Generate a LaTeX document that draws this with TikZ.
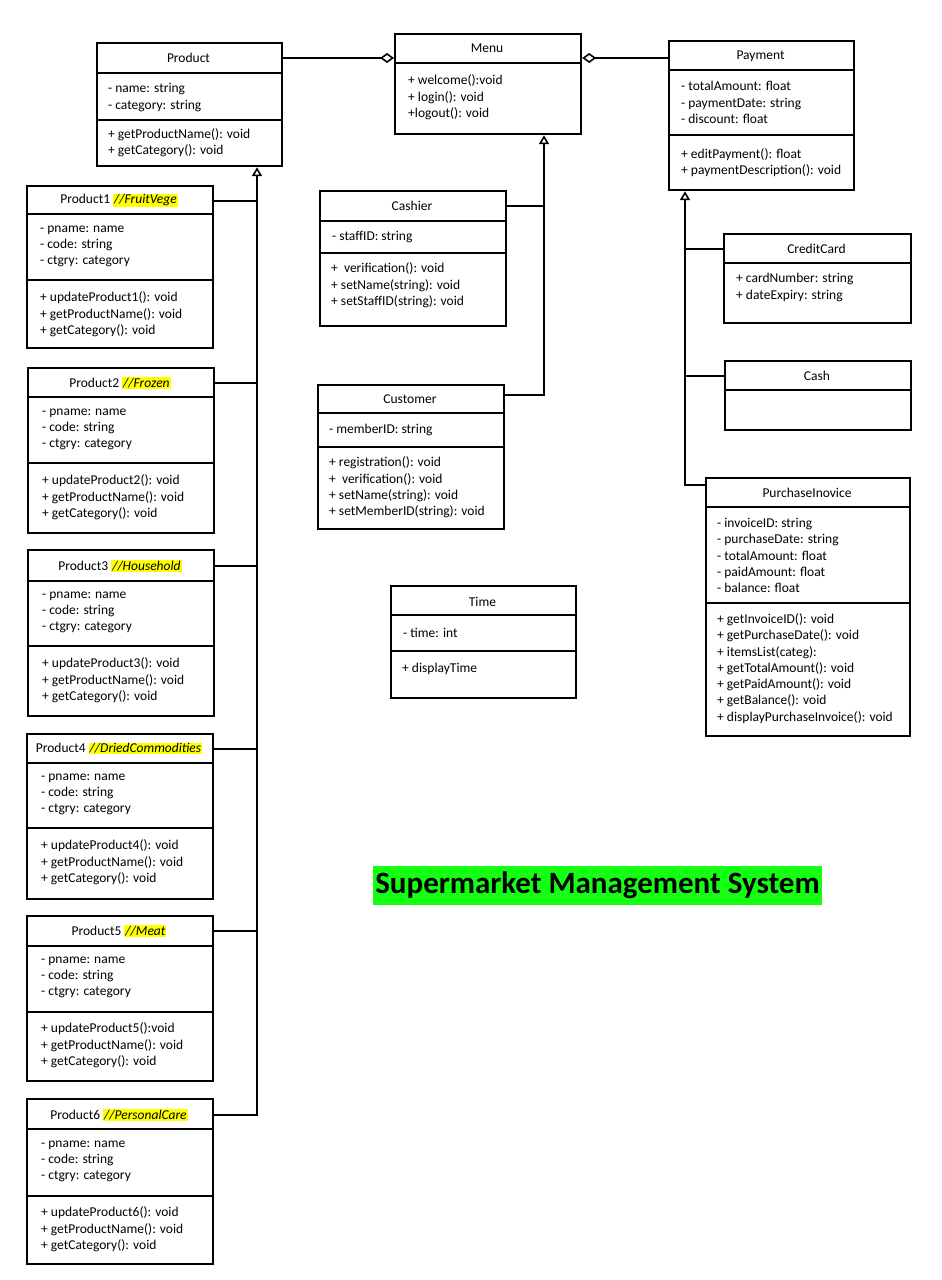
\documentclass[tikz,border=0pt]{standalone}
\usepackage{fontspec}
\setmainfont{Carlito}
\usetikzlibrary{arrows.meta}
\definecolor{hl}{RGB}{255,255,0}
\definecolor{titlegreen}{RGB}{20,255,20}
\newcommand\umlbox[7]{%
  \node[clsbox, anchor=north west, minimum width={(#4-#2)*1pt}, minimum height={(#5-#3)*1pt}] (#1) at (#2,#3) {};
  \draw[clsline] (#2,#6) -- (#4,#6);
  \ifx&#7&\else\draw[clsline] (#2,#7) -- (#4,#7);\fi
}
\newcommand\hlt[1]{{\setlength{\fboxsep}{1pt}\colorbox{hl}{\itshape #1}}}
\begin{document}
\begin{tikzpicture}[x=1pt,y=-1pt,
  clsbox/.style={draw, line width=2.2pt, inner sep=0pt, fill=white},
  clsline/.style={line width=2.2pt},
  conn/.style={line width=2pt},
  txt/.style={font=\fontsize{13.5}{16.3}\selectfont, align=left, inner sep=0pt, anchor=west},
  hdr/.style={font=\fontsize{13.5}{16.3}\selectfont, inner sep=0pt},
  inh/.style={conn, -{Triangle[open, length=9pt, width=10pt, line width=1.6pt]}},
  agg/.style={conn, -{Diamond[open, length=14pt, width=10pt, line width=1.6pt]}}]
\useasboundingbox (0,0) rectangle (942,1280);

% Product
\umlbox{Product}{96}{42}{281}{165}{73}{120}
\node[hdr] (Product-h) at ({(96+281)/2},57.5) {Product};
\node[txt] (Product-a) at (108,97.5) {- name: string\\- category: string};
\node[txt] (Product-m) at (108,142.5) {+ getProductName(): void\\+ getCategory(): void};

% Menu
\umlbox{Menu}{394}{33}{580}{133}{63}{}
\node[hdr] (Menu-h) at ({(394+580)/2},48) {Menu};
\node[txt] (Menu-m) at (408,97.5) {+ welcome():void\\+ login(): void\\+logout(): void};

% Payment
\umlbox{Payment}{668}{40}{853}{189}{70}{135}
\node[hdr] (Payment-h) at ({(668+853)/2},56) {Payment};
\node[txt] (Payment-a) at (681,102.5) {- totalAmount: float\\- paymentDate: string\\- discount: float};
\node[txt] (Payment-m) at (681,162.5) {+ editPayment(): float\\+ paymentDescription(): void};

% CreditCard
\umlbox{CC}{723}{233}{910}{322}{263}{}
\node[hdr] (CC-h) at ({(723+910)/2},249) {CreditCard};
\node[txt] (CC-a) at (736,287.5) {+ cardNumber: string\\+ dateExpiry: string};

% Cash
\umlbox{Cash}{724}{360}{910}{429}{390}{}
\node[hdr] (Cash-h) at ({(724+910)/2},375.5) {Cash};

% PurchaseInovice
\umlbox{PI}{705}{477}{909}{735}{507}{603}
\node[hdr] (PI-h) at ({(705+909)/2},493) {PurchaseInovice};
\node[txt] (PI-a) at (717,555.5) {- invoiceID: string\\- purchaseDate: string\\- totalAmount: float\\- paidAmount: float\\- balance: float};
\node[txt] (PI-m) at (717,668.5) {+ getInvoiceID(): void\\+ getPurchaseDate(): void\\+ itemsList(categ):\\+ getTotalAmount(): void\\+ getPaidAmount(): void\\+ getBalance(): void\\+ displayPurchaseInvoice(): void};

% Cashier
\umlbox{Cashier}{319}{190}{505}{325}{221}{253}
\node[hdr] (Cashier-h) at ({(319+505)/2},206) {Cashier};
\node[txt] (Cashier-a) at (332,236.5) {- staffID: string};
\node[txt] (Cashier-m) at (331,285.5) {+\ \ verification(): void\\+ setName(string): void\\+ setStaffID(string): void};

% Customer
\umlbox{Customer}{317}{384}{503}{528}{413}{447}
\node[hdr] (Customer-h) at ({(317+503)/2},399.5) {Customer};
\node[txt] (Customer-a) at (329,429.5) {- memberID: string};
\node[txt] (Customer-m) at (329,487.5) {+ registration(): void\\+\ \ verification(): void\\+ setName(string): void\\+ setMemberID(string): void};

% Time
\umlbox{Time}{390}{585}{575}{697}{615}{651}
\node[hdr] (Time-h) at ({(390+575)/2},602) {Time};
\node[txt] (Time-a) at (403,632.5) {- time: int};
\node[txt] (Time-m) at (402,668.5) {+ displayTime};

% Products 1-6
\umlbox{P1}{26}{185}{212}{347}{214}{280}
\node[hdr] (P1-h) at ({(26+212)/2},200.5) {Product1 \hlt{//FruitVege}};
\node[txt] (P1-a) at (40,246.5) {- pname: name\\- code: string\\- ctgry: category};
\node[txt] (P1-m) at (40,314.5) {+ updateProduct1(): void\\+ getProductName(): void\\+ getCategory(): void};

\umlbox{P2}{27}{367}{213}{532}{397}{463}
\node[hdr] (P2-h) at ({(27+213)/2},383) {Product2 \hlt{//Frozen}};
\node[txt] (P2-a) at (42,429.5) {- pname: name\\- code: string\\- ctgry: category};
\node[txt] (P2-m) at (42,497.5) {+ updateProduct2(): void\\+ getProductName(): void\\+ getCategory(): void};

\umlbox{P3}{27}{549}{213}{715}{581}{646}
\node[hdr] (P3-h) at ({(27+213)/2},566) {Product3 \hlt{//Household}};
\node[txt] (P3-a) at (42,612.5) {- pname: name\\- code: string\\- ctgry: category};
\node[txt] (P3-m) at (42,680.5) {+ updateProduct3(): void\\+ getProductName(): void\\+ getCategory(): void};

\umlbox{P4}{26}{733}{212}{898}{763}{828}
\node[hdr] (P4-h) at ({(26+212)/2},748.5) {Product4 \hlt{//DriedCommodities}};
\node[txt] (P4-a) at (41,794.5) {- pname: name\\- code: string\\- ctgry: category};
\node[txt] (P4-m) at (41,862.5) {+ updateProduct4(): void\\+ getProductName(): void\\+ getCategory(): void};

\umlbox{P5}{26}{915}{212}{1080}{946}{1012}
\node[hdr] (P5-h) at ({(26+212)/2},931) {Product5 \hlt{//Meat}};
\node[txt] (P5-a) at (41,977.5) {- pname: name\\- code: string\\- ctgry: category};
\node[txt] (P5-m) at (41,1045.5) {+ updateProduct5():void\\+ getProductName(): void\\+ getCategory(): void};

\umlbox{P6}{26}{1098}{212}{1263}{1129}{1196}
\node[hdr] (P6-h) at ({(26+212)/2},1115) {Product6 \hlt{//PersonalCare}};
\node[txt] (P6-a) at (41,1161.5) {- pname: name\\- code: string\\- ctgry: category};
\node[txt] (P6-m) at (41,1229.5) {+ updateProduct6(): void\\+ getProductName(): void\\+ getCategory(): void};

% Title
\node[fill=titlegreen, minimum width=449pt, minimum height=39pt, inner sep=0pt,
  font=\bfseries\fontsize{31}{32}\selectfont] (title) at (597.5,885.5) {Supermarket Management System};

% Aggregations
\coordinate (ay) at (0,58);
\draw[agg] (Product.east |- ay) -- (Menu.west |- ay);
\draw[agg] (Payment.west |- ay) -- (Menu.east |- ay);

% Menu inheritance
\coordinate (mv) at (544,395);
\draw[inh] (Customer.east |- mv) -| (Menu.south -| mv);
\draw[conn] (Cashier-h -| Cashier.east) -- (Cashier-h -| mv);

% Product inheritance
\coordinate (pv) at (257,1115);
\draw[inh] (P6-h -| P6.east) -| (Product.south -| pv);
\foreach \p in {P1,P2,P3,P4,P5}{
  \draw[conn] (\p-h -| \p.east) -- (\p-h -| pv);
}

% Payment inheritance
\coordinate (yv) at (685,485);
\draw[inh] (PI.west |- yv) -| (Payment.south -| yv);
\draw[conn] (CC-h -| CC.west) -- (CC-h -| yv);
\draw[conn] (Cash-h -| Cash.west) -- (Cash-h -| yv);
\end{tikzpicture}
\end{document}
